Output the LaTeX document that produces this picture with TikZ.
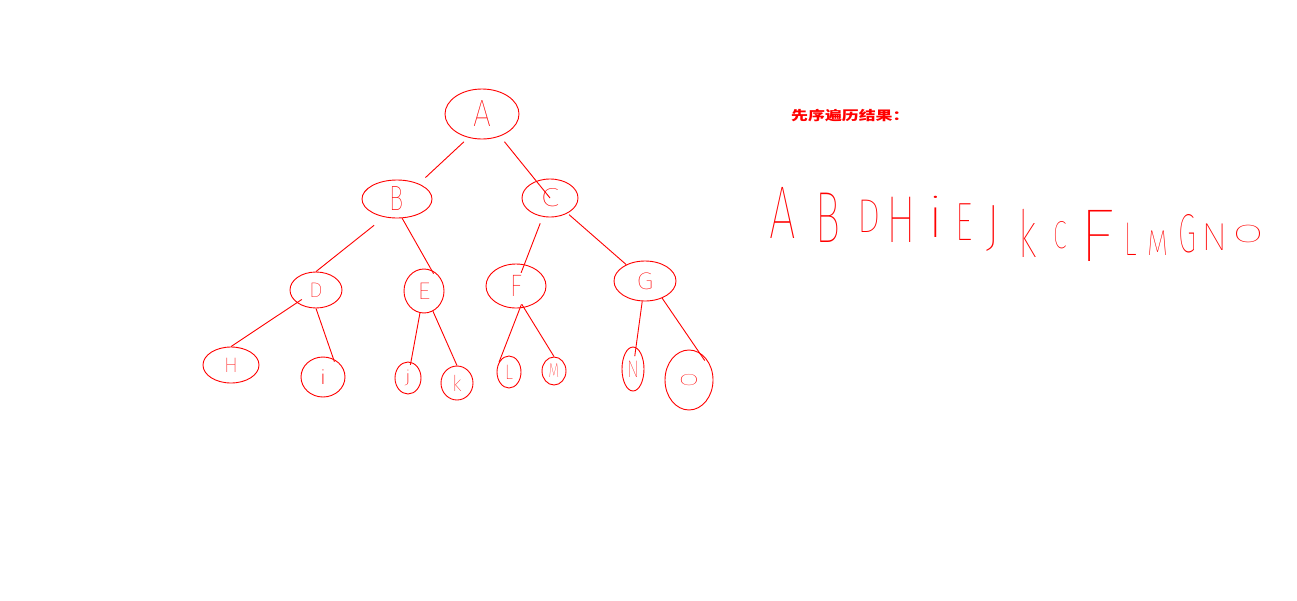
\documentclass[tikz,border=0pt]{standalone}
\usepackage{fontspec}
\usepackage{graphicx}
\setmainfont{Liberation Sans}
\IfFontExistsTF{Fira Sans Thin}{\newfontfamily\thin{Fira Sans Thin}}{%
 \IfFontExistsTF{Lato Thin}{\newfontfamily\thin{Lato Thin}}{%
  \IfFontExistsTF{Poppins Thin}{\newfontfamily\thin{Poppins Thin}}{%
   \IfFontExistsTF{Fira Sans Light}{\newfontfamily\thin{Fira Sans Light}}{%
    \IfFontExistsTF{Lato Light}{\newfontfamily\thin{Lato Light}}{%
     \newfontfamily\thin{Liberation Sans}}}}}}
\newfontfamily\cjk{Noto Sans CJK SC}
\usetikzlibrary{shapes.geometric}
\definecolor{pen}{RGB}{255,0,0}
\newcommand\lab[3]{\scalebox{#1}[#2]{#3}}
\begin{document}
\begin{tikzpicture}[x=1pt,y=-1pt,
  tn/.style={ellipse, draw=pen, line width=0.9pt, inner sep=0pt, text=pen, font=\thin\fontsize{20}{20}\selectfont},
  conn/.style={draw=pen, line width=0.9pt},
  res/.style={text=pen, inner sep=0pt, anchor=base, font=\thin\fontsize{50}{50}\selectfont}]
\useasboundingbox (0,0) rectangle (1297,600);
% tree nodes
\node[tn, minimum width=74pt, minimum height=50pt] (A) at (482,114) {\lab{1.6}{1.9}{A}};
\node[tn, minimum width=70pt, minimum height=38pt] (B) at (397,199) {\lab{1.2}{1.75}{B}};
\node[tn, minimum width=56pt, minimum height=38pt] (C) at (550,198) {\lab{1.7}{1.3}{C}};
\node[tn, minimum width=52pt, minimum height=36pt] (D) at (316,290) {\lab{1.1}{1.05}{D}};
\node[tn, minimum width=40pt, minimum height=44pt] (E) at (424,291) {\lab{1.3}{1.2}{E}};
\node[tn, minimum width=60pt, minimum height=44pt] (F) at (516,286) {\lab{1.3}{1.55}{F}};
\node[tn, minimum width=62pt, minimum height=40pt] (G) at (645,281) {\lab{1.4}{1.2}{G}};
\node[tn, minimum width=56pt, minimum height=36pt] (H) at (231,365) {\lab{1.05}{1.05}{H}};
\node[tn, minimum width=44pt, minimum height=40pt] (I) at (323,377) {\lab{2.0}{1.0}{i}};
\node[tn, minimum width=26pt, minimum height=32pt] (J) at (408,378) {\lab{1.5}{0.85}{j}};
\node[tn, minimum width=32pt, minimum height=34pt] (K) at (457,383) {\lab{1.0}{1.1}{k}};
\node[tn, minimum width=24pt, minimum height=32pt] (L) at (509,372) {\lab{0.9}{1.05}{L}};
\node[tn, minimum width=24pt, minimum height=28pt] (M) at (554,371) {\lab{0.7}{1.0}{M}};
\node[tn, minimum width=22pt, minimum height=44pt] (N) at (633,369) {\lab{0.9}{1.2}{N}};
\node[tn, minimum width=48pt, minimum height=60pt] (O) at (689,380) {\lab{1.5}{0.8}{O}};
% connectors
\draw[conn, shorten <=6pt, shorten >=9pt] (A.240) -- (B.35);
\draw[conn, shorten <=7pt] (A) -- (C.center);
\draw[conn, shorten <=13pt] (B.235) -- (D.north);
\draw[conn, shorten >=-4pt] (B.285) -- (E.70);
\draw[conn, shorten <=7pt, shorten >=-9pt] (C) -- (F);
\draw[conn, shorten <=2pt] (C) -- (G);
\draw[conn, shorten <=-6pt] (D) -- (H.north);
\draw[conn, shorten >=-3pt] (D.south) -- (I.60);
\draw[conn, shorten >=-3pt] (E) -- (J);
\draw[conn] (E) -- (K.north);
\draw[conn, shorten <=-4pt] (F.280) -- (L.135);
\draw[conn, shorten <=-4pt] (F.290) -- (M.north);
\draw[conn, shorten >=-9pt] (G) -- (N);
\draw[conn, shorten >=-10pt] (G.-45) -- (O.70);
% title
\node[text=pen, inner sep=0pt, anchor=west, font=\cjk\bfseries\fontsize{13}{13}\selectfont] (title) at (791,116) {\scalebox{1.3}[1]{先序遍历结果：}};
% result sequence
\node[res] (r1) at (783,238) {\lab{0.95}{1.5}{A}};
\node[res] (r2) at (828,242) {\lab{0.85}{1.45}{B}};
\node[res] (r3) at (869,232) {\lab{0.75}{0.95}{D}};
\node[res] (r4) at (901,242) {\lab{0.9}{1.33}{H}};
\node[res] (r5) at (936,237) {\lab{1.6}{1.14}{i}};
\node[res] (r6) at (964,240) {\lab{0.7}{1.08}{E}};
\node[res] (r7) at (993,245) {\lab{1.1}{1.17}{J}};
\node[res] (r8) at (1028,257) {\lab{0.8}{1.31}{k}};
\node[res] (r9) at (1060,248) {\lab{0.5}{0.78}{C}};
\node[res] (r10) at (1097,261) {\lab{1.5}{1.5}{F}};
\node[res] (r11) at (1131,255) {\lab{0.55}{0.95}{L}};
\node[res] (r12) at (1158,255) {\lab{0.55}{0.72}{M}};
\node[res] (r13) at (1188,252) {\lab{0.6}{1.1}{G}};
\node[res] (r14) at (1215,250) {\lab{0.8}{0.78}{N}};
\node[res] (r15) at (1248,242) {\lab{0.9}{0.5}{O}};
\end{tikzpicture}
\end{document}
